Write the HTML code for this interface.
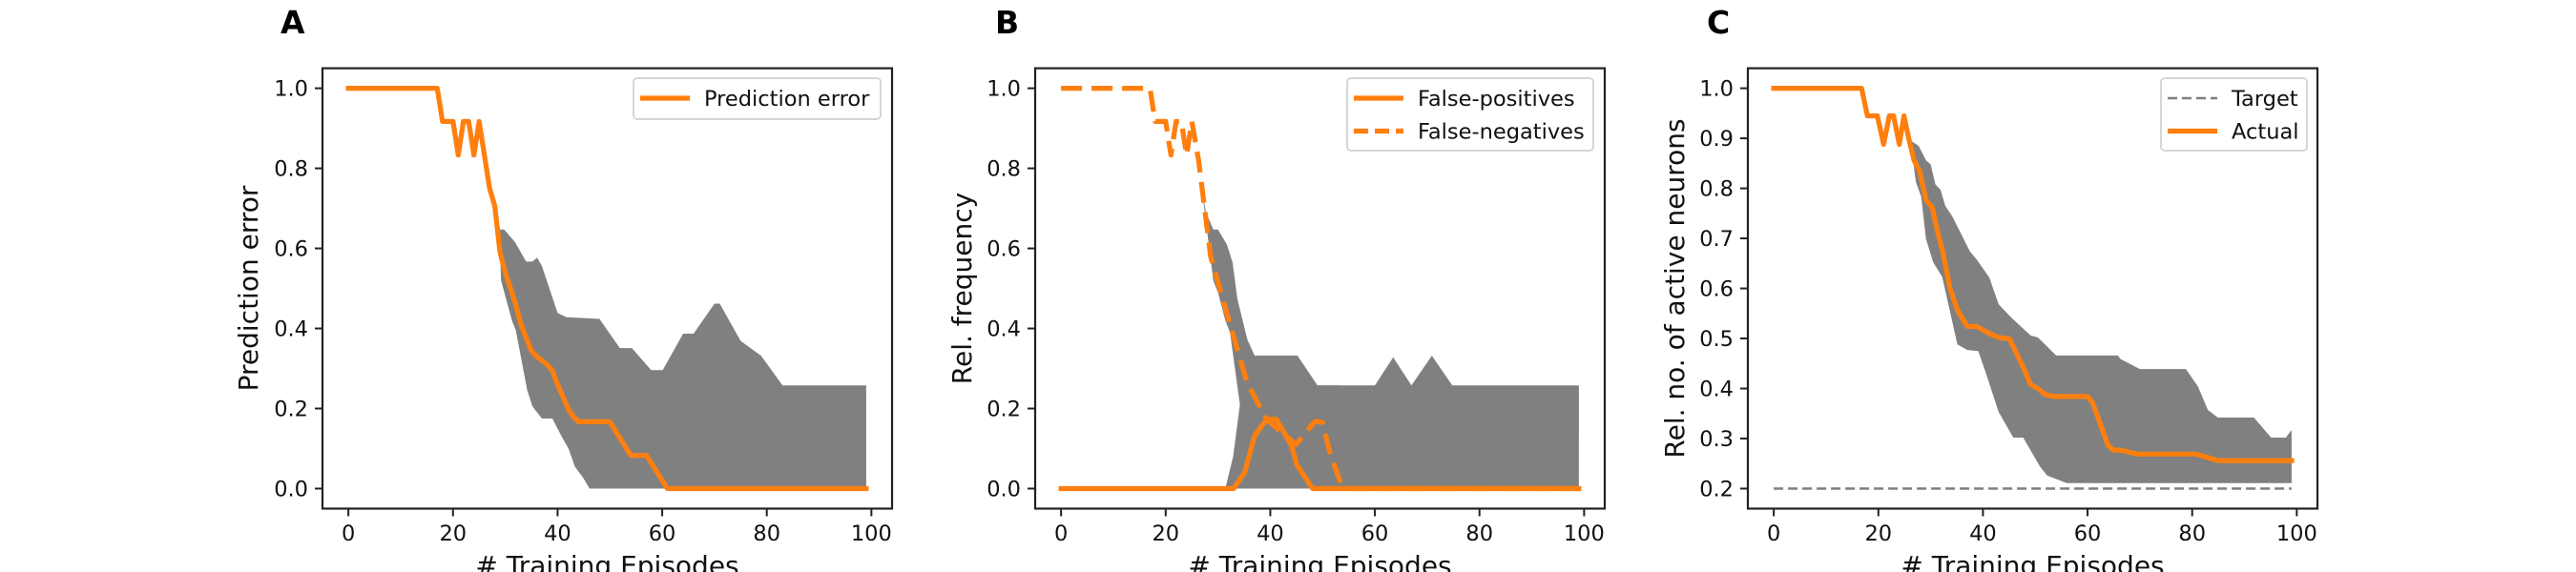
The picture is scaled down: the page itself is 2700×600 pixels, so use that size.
<!DOCTYPE html>
<html><head><meta charset="utf-8"><style>
html,body{margin:0;padding:0;background:#fff;}
svg{display:block;font-family:"DejaVu Sans","Liberation Sans",sans-serif;}
</style></head><body>
<svg id="fig" width="2700" height="600" viewBox="0 0 2700 600" xmlns="http://www.w3.org/2000/svg"></svg>
<script>
// ---- Panel A data ----
const aLineX = [0,17,18,20,21,22,23,24,25,27,28,29,30,31,32,33,35,36,38,39,40,42,43,44,50,54,57,61,99];
const aLineY = [1,1,.917,.917,.833,.917,.917,.833,.917,.75,.706,.59,.54,.5,.46,.41,.344,.33,.31,.295,.26,.2,.18,.167,.167,.083,.083,0,0];
const aUpX = [27,28,29,29.8,31.9,33.3,34,35.2,36.1,37,40,41.7,48,51.9,54.2,57.9,60.1,64,66,70,71,75,78.9,83,99];
const aUpY = [.75,.71,.647,.647,.615,.583,.567,.567,.577,.556,.439,.428,.424,.351,.351,.296,.296,.387,.387,.462,.462,.369,.332,.258,.258];
const aLoX = [27,28,29,29.2,31.3,32,34.2,35.2,37,39,40.7,42.1,43.3,44.9,46.1,99];
const aLoY = [.75,.70,.59,.52,.419,.396,.246,.205,.175,.175,.132,.1,.055,.027,0,0];
// ---- Panel B data ----
const bFpX = [0,33,35.1,37,39.3,41.2,44,45.1,48.1,99];
const bFpY = [0,0,.041,.132,.173,.173,.109,.059,0,0];
const bFnX = [0,17,18,20,21,22,23,24,25,26.3,28.6,32.3,35.6,39.3,44.9,46.7,48.6,50,51.4,53.3,54,99];
const bFnY = [1,1,.917,.917,.833,.917,.917,.833,.917,.82,.58,.41,.264,.173,.11,.14,.168,.165,.09,.02,0,0];
const bFnBandUpX = [26.8,27.7,29.1,30,31.7,32.8,33.7,35.6,37,45.2,49,53];
const bFnBandUpY = [.76,.69,.647,.647,.61,.565,.474,.373,.332,.332,.258,.258];
const bFnBandLoX = [26.8,29.1,30,31.4,32.3,34.2,36,37,53];
const bFnBandLoY = [.76,.52,.49,.42,.39,.21,.05,0,0];
const bFpBandUpX = [31.4,32.9,34.2,35.5,37,45.2,49,60,63.5,67,70.9,74.8,99];
const bFpBandUpY = [0,.08,.21,.33,.332,.332,.258,.258,.328,.258,.332,.258,.258];
// ---- Panel C data ----
const cLineX = [0,16.8,17.9,19.8,21,22.1,22.9,24,24.9,25.8,26.8,27.9,29.1,30.3,31.4,32.3,33.7,35.1,37,38.8,41.2,43,45.1,46.8,48.1,49.1,50.5,51.9,53.7,60,61,62.5,63.9,64.9,66.3,69.5,80.7,84.9,99];
const cLineY = [1,1,.945,.945,.888,.945,.945,.888,.945,.9,.856,.834,.777,.762,.71,.674,.6,.557,.524,.524,.51,.502,.499,.462,.433,.408,.4,.388,.384,.384,.371,.327,.287,.277,.277,.269,.269,.256,.256];
const cUpX = [26.1,27.7,29.1,30,30.9,31.9,32.8,34.2,37.5,38.8,41.2,43,45.4,49.1,50.5,54,65.8,66.3,70,78.8,81.1,83,84.9,91.8,95.1,97.9,99];
const cUpY = [.896,.885,.856,.848,.808,.797,.765,.743,.674,.658,.622,.568,.542,.506,.502,.466,.466,.459,.439,.439,.404,.357,.342,.342,.302,.302,.317];
const cLoX = [26.1,27.2,28.2,29.1,30.5,32.2,35.1,37,39.1,40.7,43,45.8,47.7,50.9,52.3,56,99];
const cLoY = [.896,.812,.783,.699,.652,.623,.488,.477,.475,.426,.353,.302,.302,.244,.226,.211,.211];
const cTargetX = [0,99];
const cTargetY = [.2,.2];
const xTicks = [0,20,40,60,80,100];
const abYTicks = [0,.2,.4,.6,.8,1];
const cYTicks = [.2,.3,.4,.5,.6,.7,.8,.9,1];

const NS = "http://www.w3.org/2000/svg";
const fig = document.getElementById('fig');
function mk(tag, attrs, parent){ const e=document.createElementNS(NS,tag); for(const k in attrs) e.setAttribute(k,attrs[k]); (parent||fig).appendChild(e); return e; }
const ORANGE="#ff7f0e", GRAY="#808080";
const TOP=71.6, BOT=533.5;

function panel(cfg){
  const g = mk('g',{});
  
  
  const L=cfg.left, R=cfg.left+597;
  const sx = v => L + (v+4.95)/108.9*(R-L);
  const sy = v => BOT - (v-cfg.ymin)/(cfg.ymax-cfg.ymin)*(BOT-TOP);
  const pts = (xs,ys) => xs.map((x,i)=>sx(x).toFixed(1)+','+sy(ys[i]).toFixed(1));
  // bands
  cfg.bands.forEach(b=>{
    const lo = b.loX ? pts(b.loX,b.loY).reverse() : [sx(b.upX[b.upX.length-1])+','+sy(0), sx(b.upX[0])+','+sy(0)];
    const p = mk('polygon',{points: pts(b.upX,b.upY).concat(lo).join(' '), fill:GRAY, stroke:'none'}, g);
    
    
  });
  cfg.lines.forEach(l=>{
    const p = mk('polyline',{points: pts(l.x,l.y).join(' '), fill:'none', stroke:l.color, 'stroke-width':l.w, 'stroke-linejoin':'round', 'stroke-linecap':l.dash?'butt':'square'}, g);
    if(l.dash) p.setAttribute('stroke-dasharray', l.dash);
    
    
  });
  // spines
  const fr = mk('rect',{x:L,y:TOP,width:R-L,height:BOT-TOP,fill:'none',stroke:'#222','stroke-width':2.2}, g);
  
  
  xTicks.forEach(t=>{
    mk('line',{x1:sx(t),x2:sx(t),y1:BOT,y2:BOT+8,stroke:'#222','stroke-width':2},g);
    const tx = mk('text',{x:sx(t),y:567,'text-anchor':'middle','font-size':22.5,fill:'#111'},g);
    tx.textContent = String(t);
    
    
  });
  cfg.yticks.forEach(t=>{
    mk('line',{x1:L-8,x2:L,y1:sy(t),y2:sy(t),stroke:'#222','stroke-width':2},g);
    const ty = mk('text',{x:L-15,y:sy(t)+8,'text-anchor':'end','font-size':22.5,fill:'#111'},g);
    ty.textContent = t.toFixed(1);
    
    
  });
  const xl = mk('text',{x:(L+R)/2,y:603,'text-anchor':'middle','font-size':28,fill:'#111'},g);
  xl.textContent = '# Training Episodes';
  
  
  const yl = mk('text',{x:0,y:0,'text-anchor':'middle','font-size':28,fill:'#111',transform:`translate(${cfg.ylx},302.5) rotate(-90)`},g);
  yl.textContent = cfg.ylabel;
  
  
  const pl = mk('text',{x:cfg.letterX,y:35,'font-size':33,'font-weight':'bold',fill:'#000'},g);
  pl.textContent = cfg.letter;
  
  
  // legend
  const lg = cfg.legend;
  const lgG = mk('g',{},g);
  
  
  mk('rect',{x:lg.x,y:82,width:lg.w,height:lg.h,rx:4,fill:'#fff','fill-opacity':0.8,stroke:'#d6d6d6','stroke-width':2},lgG);
  lg.items.forEach((it,i)=>{
    const yy = 103 + i*34.5;
    const ln = mk('line',{x1:lg.x+7,x2:lg.x+59,y1:yy,y2:yy,stroke:it.color,'stroke-width':it.w},lgG);
    if(it.dash) ln.setAttribute('stroke-dasharray', it.dash);
    
    
    const tt = mk('text',{x:lg.x+74,y:yy+8,'font-size':22.5,fill:'#111'},lgG);
    tt.textContent = it.label;
    
    
  });
}

panel({name:'panel-a', left:338, ymin:-0.05, ymax:1.05, yticks:abYTicks, ylabel:'Prediction error', ylx:270, letter:'A', letterX:294,
  bands:[{name:'prediction-error-band', upX:aUpX, upY:aUpY, loX:aLoX, loY:aLoY}],
  lines:[{name:'prediction-error-line', x:aLineX, y:aLineY, color:ORANGE, w:5.2}],
  legend:{x:664, w:259, h:43, items:[{label:'Prediction error', color:ORANGE, w:5.2}]}});

panel({name:'panel-b', left:1085, ymin:-0.05, ymax:1.05, yticks:abYTicks, ylabel:'Rel. frequency', ylx:1018, letter:'B', letterX:1043,
  bands:[{name:'false-positives-band', upX:bFpBandUpX, upY:bFpBandUpY},
         {name:'false-negatives-band', upX:bFnBandUpX, upY:bFnBandUpY, loX:bFnBandLoX, loY:bFnBandLoY}],
  lines:[{name:'false-positives-line', x:bFpX, y:bFpY, color:ORANGE, w:5.2},
         {name:'false-negatives-line', x:bFnX, y:bFnY, color:ORANGE, w:5.2, dash:'22,10'}],
  legend:{x:1412, w:258, h:76, items:[{label:'False-positives', color:ORANGE, w:5.2},{label:'False-negatives', color:ORANGE, w:5.2, dash:'15,7'}]}});

panel({name:'panel-c', left:1832, ymin:0.16, ymax:1.04, yticks:cYTicks, ylabel:'Rel. no. of active neurons', ylx:1765, letter:'C', letterX:1789,
  bands:[{name:'active-neurons-band', upX:cUpX, upY:cUpY, loX:cLoX, loY:cLoY}],
  lines:[{name:'target-line', x:cTargetX, y:cTargetY, color:'#7f7f7f', w:2.6, dash:'10,5'},
         {name:'actual-line', x:cLineX, y:cLineY, color:ORANGE, w:5.2}],
  legend:{x:2265, w:153, h:76, items:[{label:'Target', color:'#7f7f7f', w:2.6, dash:'10,5'},{label:'Actual', color:ORANGE, w:5.2}]}});
</script>
</body></html>
